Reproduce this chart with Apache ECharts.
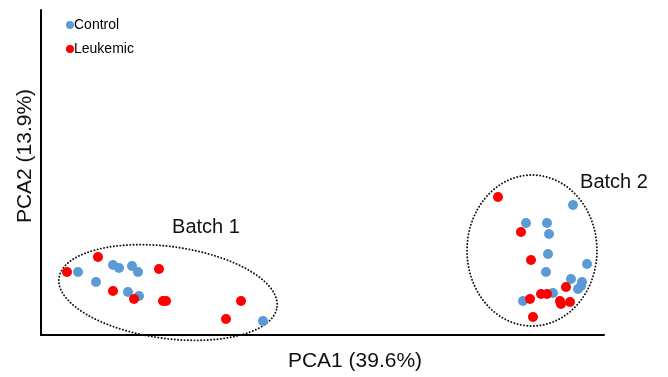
<!DOCTYPE html>
<html>
<head>
<meta charset="utf-8">
<script src="https://cdn.jsdelivr.net/npm/echarts@6/dist/echarts.min.js"></script>
<style>html,body{margin:0;padding:0;background:#fff;}#c{width:668px;height:377px;}</style>
</head>
<body>
<div id="c"></div>
<script>
// Data (PCA scores, arbitrary units)
var controlX = [37,55,72,78,91,97,87,98,222,532,485,506,508,507,505,546,530,541,540,537,512,482];
var controlY = [63,53,70,67,69,63,43,39,14,130,112,112,101,81,63,71,56,53,49,46,42,34];
var leukemicX = [26,57,118,72,93,122,125,200,185,457,480,490,500,506,489,525,519,520,529,492];
var leukemicY = [63,78,66,44,36,34,34,34,16,138,103,75,41,41,36,48,34,31,33,18];
// Batch annotations: ellipse centre, semi-axes, rotation (deg) and label position
var batchNames = ['Batch 1', 'Batch 2'];
var ellipseCX = [127, 491];
var ellipseCY = [42.5, 84.5];
var ellipseA = [110, 65];
var ellipseB = [46, 75.5];
var ellipseRot = [-7.6, 0];
var labelX = [165, 573];
var labelY = [108, 153];

function zip(xs, ys) { return xs.map(function (x, i) { return [x, ys[i]]; }); }
var ellipseData = batchNames.map(function (n, i) {
  return [ellipseCX[i], ellipseCY[i], ellipseA[i], ellipseB[i], ellipseRot[i], labelX[i], labelY[i], n];
});

var chart = echarts.init(document.getElementById('c'));
var font = 'Liberation Sans, Arial, sans-serif';
chart.setOption({
  animation: false,
  grid: { left: 41, right: 64, top: 10, bottom: 42 },
  xAxis: {
    type: 'value', min: 0, max: 563,
    name: 'PCA1 (39.6%)', nameLocation: 'middle', nameGap: 16,
    nameTextStyle: { fontSize: 21, color: '#111', fontFamily: font, padding: [0, 0, 0, 65] },
    axisLine: { lineStyle: { color: '#000', width: 2 } },
    axisTick: { show: false }, axisLabel: { show: false }, splitLine: { show: false }
  },
  yAxis: {
    type: 'value', min: 0, max: 325,
    name: 'PCA2 (13.9%)', nameLocation: 'middle', nameGap: 5,
    nameTextStyle: { fontSize: 21, color: '#111', fontFamily: font, padding: [0, 0, 0, 33] },
    axisLine: { show: true, lineStyle: { color: '#000', width: 2 } },
    axisTick: { show: false }, axisLabel: { show: false }, splitLine: { show: false }
  },
  legend: {
    orient: 'vertical', left: 61, top: 13, itemGap: 10,
    itemWidth: 8, itemHeight: 8, icon: 'circle',
    textStyle: { fontSize: 14, color: '#000', fontFamily: font, padding: [0, 0, 0, -5] },
    data: ['Control', 'Leukemic']
  },
  series: [
    {
      type: 'custom', name: 'batches', silent: true, clip: false,
      data: ellipseData,
      renderItem: function (params, api) {
        var cx = api.value(0), cy = api.value(1), a = api.value(2), b = api.value(3);
        var rot = api.value(4) * Math.PI / 180;
        var pts = [];
        for (var k = 0; k < 120; k++) {
          var t = k / 120 * Math.PI * 2;
          var ex = a * Math.cos(t), ey = b * Math.sin(t);
          var x = cx + ex * Math.cos(rot) - ey * Math.sin(rot);
          var y = cy + ex * Math.sin(rot) + ey * Math.cos(rot);
          pts.push(api.coord([x, y]));
        }
        var lp = api.coord([api.value(5), api.value(6)]);
        return {
          type: 'group',
          children: [
            { type: 'polygon', shape: { points: pts },
              style: { fill: null, stroke: '#111', lineWidth: 1.9, lineDash: [0.1, 3.2], lineCap: 'round' } },
            { type: 'text', x: lp[0], y: lp[1],
              style: { text: batchNames[params.dataIndex], fill: '#111', font: '20px ' + font, textAlign: 'center', textVerticalAlign: 'middle' } }
          ]
        };
      },
      z: 1
    },
    {
      type: 'scatter', name: 'Control', data: zip(controlX, controlY),
      symbolSize: 10, itemStyle: { color: '#5B9BD5', opacity: 1 }, z: 3
    },
    {
      type: 'scatter', name: 'Leukemic', data: zip(leukemicX, leukemicY),
      symbolSize: 10, itemStyle: { color: '#FF0000', opacity: 1 }, z: 4
    }
  ]
});
</script>
</body>
</html>
